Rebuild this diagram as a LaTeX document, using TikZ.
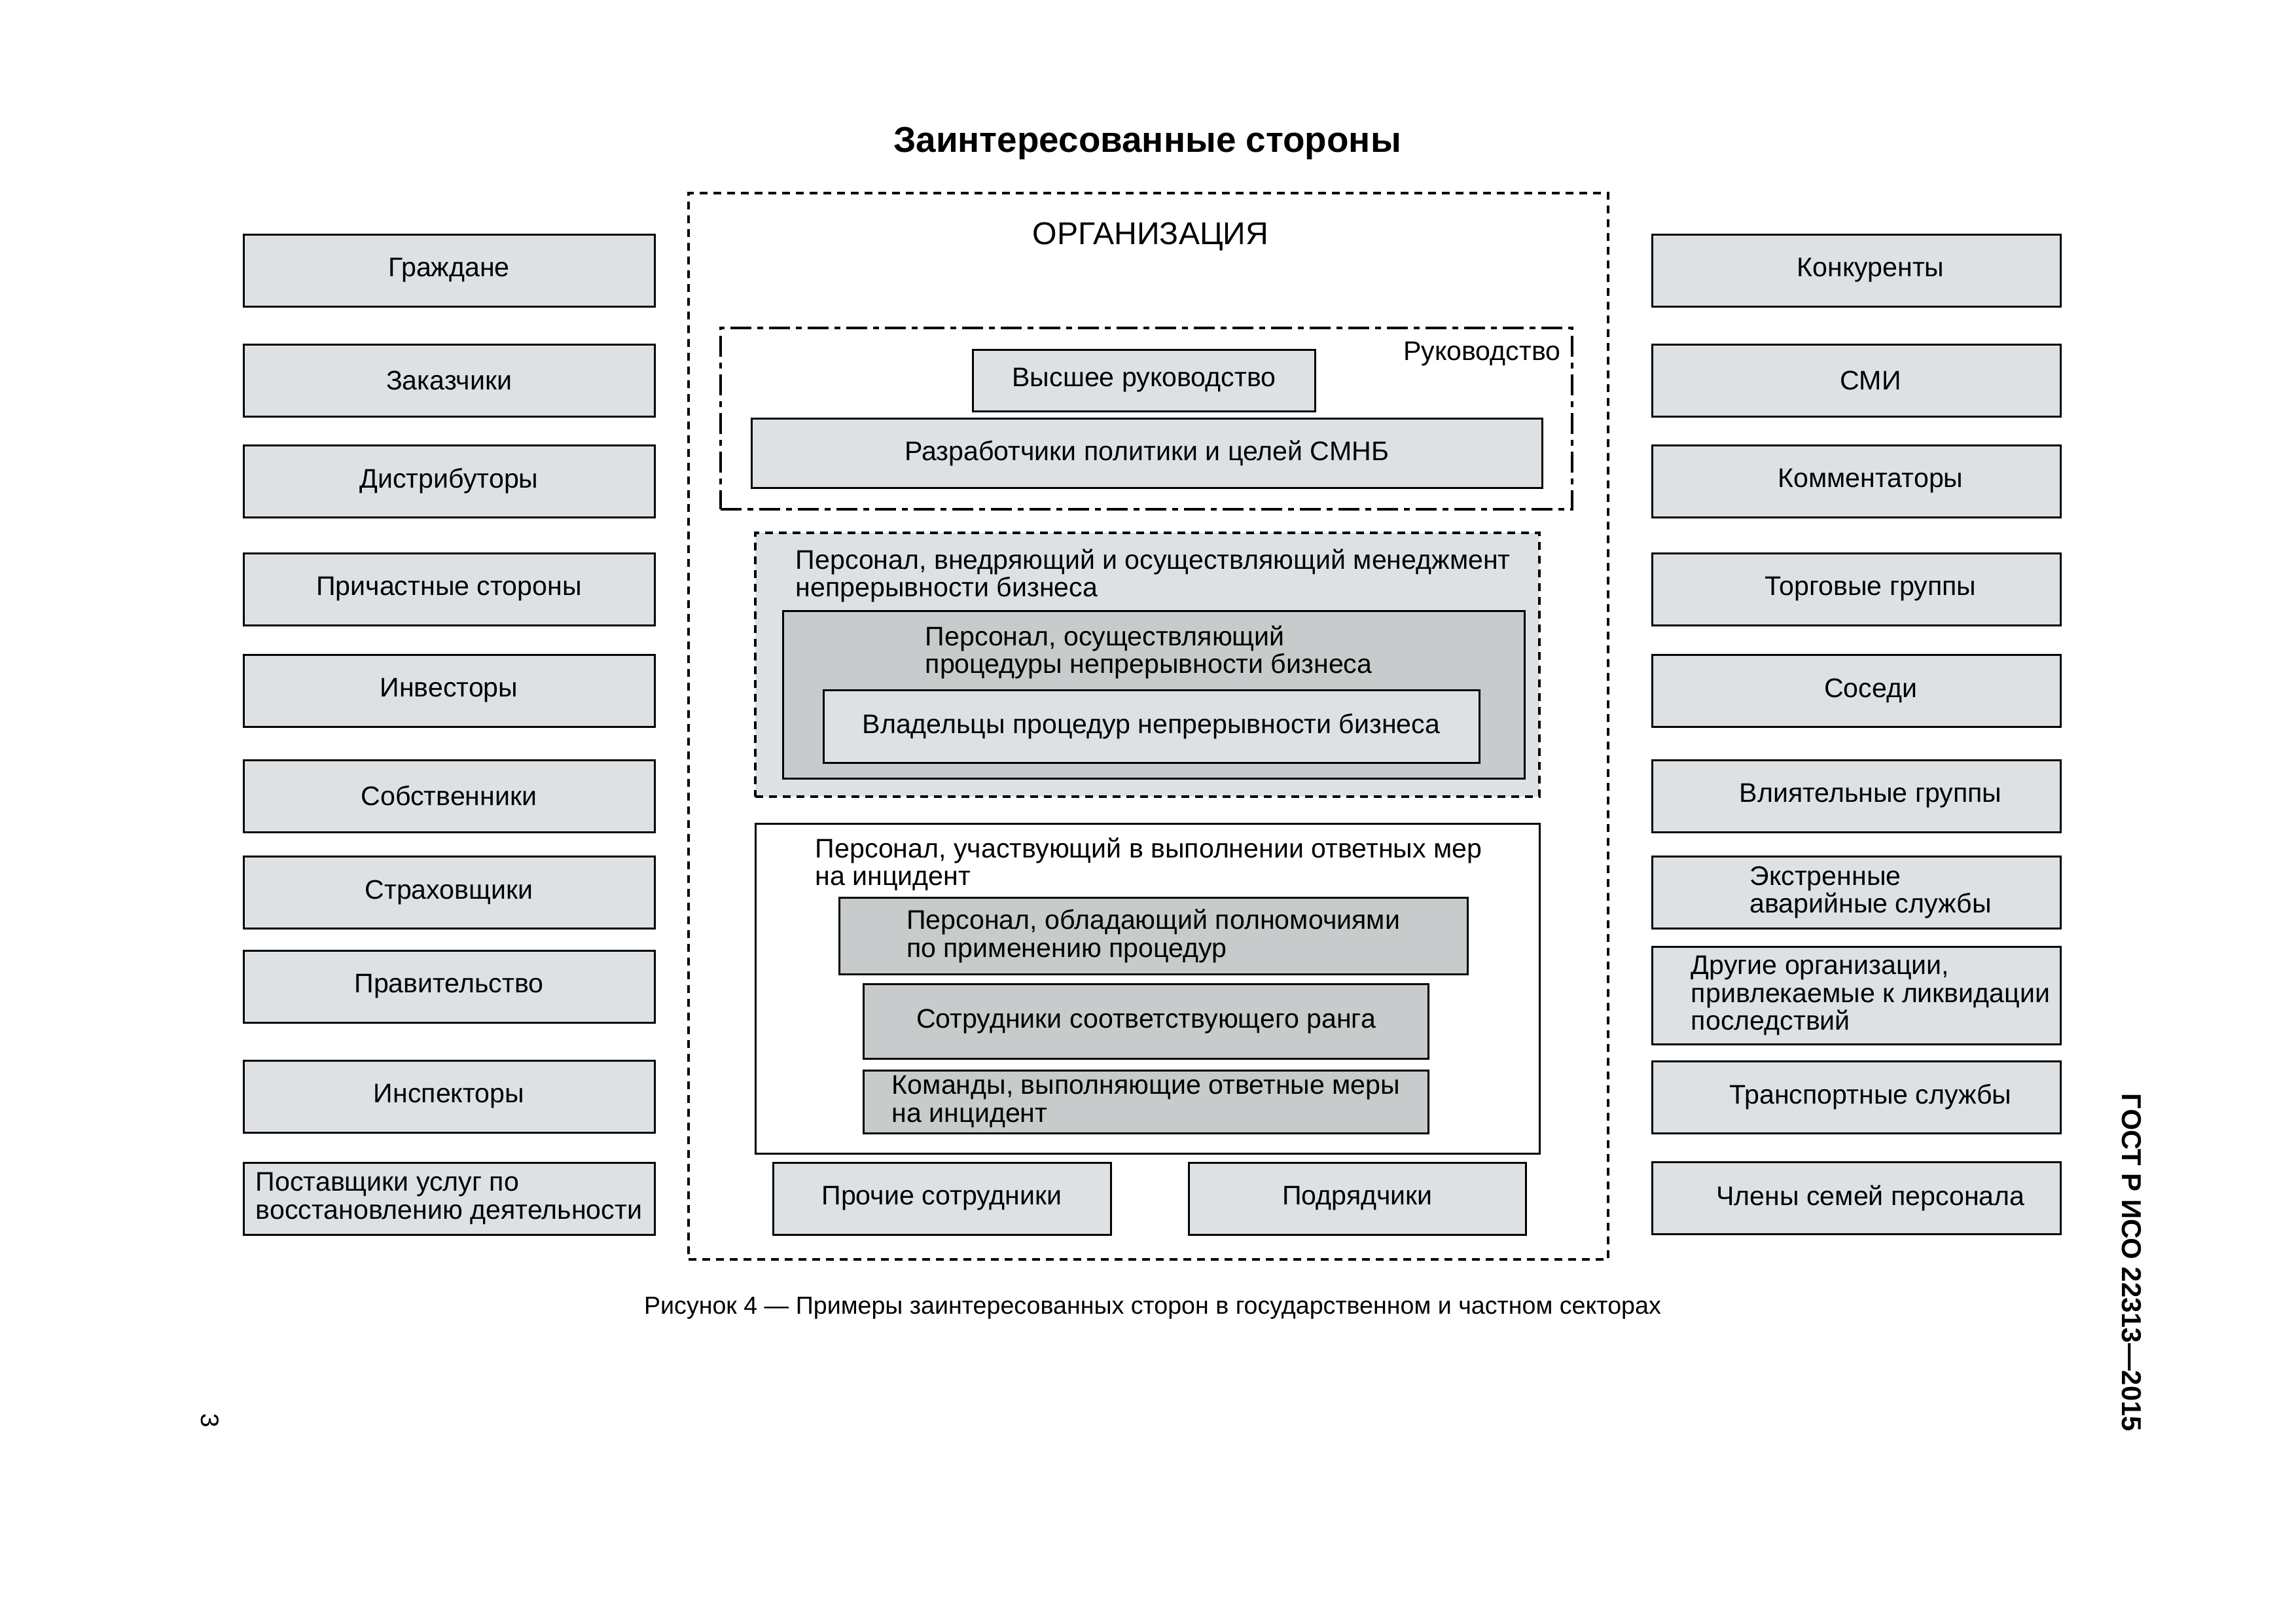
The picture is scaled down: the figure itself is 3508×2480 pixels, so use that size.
\documentclass[tikz,border=0pt]{standalone}
\usepackage{fontspec}
\setmainfont{Liberation Sans}
\usepackage{tikz}
\definecolor{boxlight}{RGB}{222,225,228}
\definecolor{boxdark}{RGB}{199,203,203}
\newcommand{\boxfont}{\fontsize{11.7}{12}\selectfont}

\begin{document}
\begin{tikzpicture}[
  x=0.1mm, y=-0.1mm,
  box/.style={draw, line width=0.3mm, fill=boxlight, inner sep=0pt,
              minimum width=62.8mm, minimum height=11mm,
              font=\boxfont, align=left},
  rbox/.style={box, minimum width=62.4mm,
               execute at begin node={\hspace*{4.4mm}}},
  dbox/.style={box, fill=boxdark},
  grp/.style={draw, line width=0.4mm, anchor=north west,
              inner sep=0pt, outer sep=0pt},
  lbl/.style={font=\boxfont, align=left, inner sep=0pt, anchor=north west}
]
  \useasboundingbox (0,0) rectangle (3508,2480);

  % Заголовок
  \node[font=\fontsize{15.6}{18}\selectfont\bfseries, anchor=base] (title)
        at (1753,232) {Заинтересованные стороны};

  % Левая колонка
  \node[box] (grazh)  at (686,413)  {Граждане};
  \node[box] (zakaz)  at (686,581)  {Заказчики};
  \node[box] (distr)  at (686,735)  {Дистрибуторы};
  \node[box] (prich)  at (686,900)  {Причастные стороны};
  \node[box] (invest) at (686,1055) {Инвесторы};
  \node[box] (sobstv) at (686,1216) {Собственники};
  \node[box] (strakh) at (686,1363) {Страховщики};
  \node[box] (prav)   at (686,1507) {Правительство};
  \node[box] (insp)   at (686,1675) {Инспекторы};
  \node[box] (postav) at (686,1831) {Поставщики услуг по\\восстановлению деятельности};

  % Правая колонка
  \node[rbox] (konk)    at (2836,413)  {Конкуренты};
  \node[rbox] (smi)     at (2836,581)  {СМИ};
  \node[rbox] (komment) at (2836,735)  {Комментаторы};
  \node[rbox] (torg)    at (2836,900)  {Торговые группы};
  \node[rbox] (sosedi)  at (2836,1055) {Соседи};
  \node[rbox] (vliyat)  at (2836,1216) {Влиятельные группы};
  \node[rbox] (ekstr)   at (2836,1363) {Экстренные\\аварийные службы};
  \node[rbox, minimum height=14.9mm] (drugie) at (2836,1521)
        {Другие организации,\\привлекаемые к ликвидации\\последствий};
  \node[rbox] (transp)  at (2836,1676) {Транспортные службы};
  \node[rbox] (chleny)  at (2836,1830) {Члены семей персонала};

  % Организация
  \node[grp, dash pattern=on 1.2mm off 0.9mm,
        minimum width=140.5mm, minimum height=162.9mm] (org) at (1052,295) {};
  \node[font=\fontsize{13.7}{16}\selectfont, anchor=base] (orgname)
        at (1758,373) {ОРГАНИЗАЦИЯ};

  % Руководство
  \node[grp, dash pattern=on 3.2mm off 0.9mm on 0.9mm off 0.9mm,
        minimum width=130.1mm, minimum height=27.7mm] (ruk) at (1101,501) {};
  \node[font=\boxfont, anchor=base east, inner sep=0pt] (rukname)
        at (2385,550) {Руководство};
  \node[box, minimum width=52.3mm, minimum height=9.4mm] (vyssh)
        at (1748,581) {Высшее руководство};
  \node[box, minimum width=120.8mm, minimum height=10.6mm] (razr)
        at (1752,692) {Разработчики политики и целей СМНБ};

  % Менеджмент непрерывности бизнеса
  \node[grp, fill=boxlight, dash pattern=on 1.2mm off 0.9mm,
        minimum width=119.8mm, minimum height=40.3mm] (menedzh) at (1154,814) {};
  \node[lbl] (menedzhname) at (1215,838)
        {Персонал, внедряющий и осуществляющий менеджмент\\непрерывности бизнеса};
  \node[grp, fill=boxdark, line width=0.3mm,
        minimum width=113.3mm, minimum height=25.6mm] (proc) at (1196,933) {};
  \node[lbl] (procname) at (1413,955)
        {Персонал, осуществляющий\\процедуры непрерывности бизнеса};
  \node[box, minimum width=100.2mm, minimum height=11.1mm] (vlad)
        at (1759,1110) {Владельцы процедур непрерывности бизнеса};

  % Ответные меры на инцидент
  \node[grp, line width=0.3mm,
        minimum width=119.8mm, minimum height=50.4mm] (reag) at (1154,1258) {};
  \node[lbl] (reagname) at (1245,1279)
        {Персонал, участвующий в выполнении ответных мер\\на инцидент};
  \node[dbox, minimum width=96mm, minimum height=11.7mm] (polnom)
        at (1762,1430) {Персонал, обладающий полномочиями\\по применению процедур};
  \node[dbox, minimum width=86.3mm, minimum height=11.4mm] (sotr)
        at (1751,1560) {Сотрудники соответствующего ранга};
  \node[dbox, minimum width=86.3mm, minimum height=9.6mm] (komand)
        at (1751,1683) {Команды, выполняющие ответные меры\\на инцидент};
  \node[box, minimum width=51.6mm] (proch) at (1439,1831) {Прочие сотрудники};
  \node[box, minimum width=51.5mm] (podr)  at (2074,1831) {Подрядчики};

  % Подпись и колонтитулы
  \node[font=\fontsize{10.7}{12}\selectfont, anchor=base] (caption) at (1761,2007)
        {Рисунок 4 — Примеры заинтересованных сторон в государственном и частном секторах};
  \node[font=\fontsize{11.9}{13}\selectfont\bfseries, rotate=-90, anchor=base] (gost)
        at (3242,1929) {ГОСТ Р ИСО 22313—2015};
  \node[font=\fontsize{11}{13}\selectfont, rotate=-90, anchor=base] (page)
        at (307,2170) {3};
\end{tikzpicture}
\end{document}
